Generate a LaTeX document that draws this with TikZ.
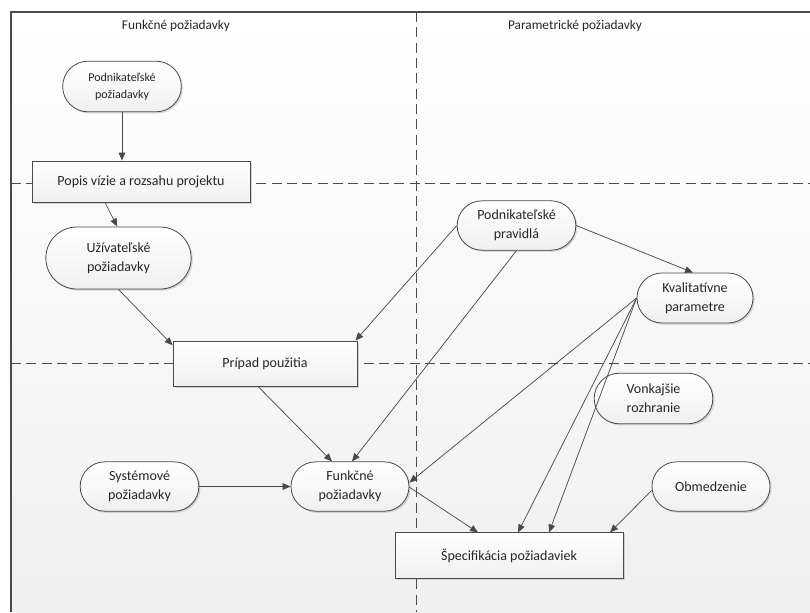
\documentclass[tikz,border=0pt]{standalone}
\usepackage{fontspec}
\setmainfont{Carlito}
\usetikzlibrary{arrows.meta,shapes.misc,shadows}
\definecolor{ink}{HTML}{262626}
\definecolor{edge}{HTML}{4A4A4A}
\begin{document}
\begin{tikzpicture}[x=0.75pt,y=-0.75pt,
  every node/.style={text=ink},
  title/.style={font=\fontsize{10}{12}\selectfont},
  boxbase/.style={draw=edge, line width=0.6pt, inner sep=0pt,
    top color=white, bottom color=black!6,
    drop shadow={shadow xshift=1.2pt, shadow yshift=-1.2pt, opacity=0.25, fill=black!60}},
  pill/.style={boxbase, rounded rectangle, align=center,
    font=\fontsize{10.5}{14.5}\selectfont},
  smallpill/.style={pill, font=\fontsize{9}{12.5}\selectfont},
  stepbox/.style={boxbase, rectangle, font=\fontsize{10.5}{12}\selectfont},
  conn/.style={draw=edge, line width=0.55pt, -{Triangle[length=6pt,width=5pt]}},
  lane/.style={draw=edge, line width=0.6pt, dash pattern=on 7.5pt off 4pt}
]
\useasboundingbox (0,0) rectangle (810,612);

% page background and outer frame
\shade[top color=white, bottom color=black!6] (11,12) rectangle (810,612);
\draw[edge, line width=1pt] (11,612) -- (11,12) -- (810,12);

% lane separators
\draw[lane] (416,12) -- (416,612);
\draw[lane] (11,183) -- (810,183);
\draw[lane] (11,363) -- (810,363);

% lane titles
\node[title] (tf) at (176,26) {Funkčné požiadavky};
\node[title] (tp) at (575,26) {Parametrické požiadavky};

% nodes
\node[smallpill, minimum width=89pt, minimum height=38pt] (pp) at (122,86.5) {Podnikateľské\\požiadavky};
\node[stepbox, minimum width=163.5pt, minimum height=30.75pt] (popis) at (141,181.5) {Popis vízie a rozsahu projektu};
\node[pill, minimum width=109pt, minimum height=46.5pt] (uz) at (118.5,258) {Užívateľské\\požiadavky};
\node[stepbox, minimum width=138pt, minimum height=33.75pt] (pripad) at (265,363.5) {Prípad použitia};
\node[pill, minimum width=89pt, minimum height=37pt] (pr) at (516.5,225.5) {Podnikateľské\\pravidlá};
\node[pill, minimum width=87pt, minimum height=37.5pt] (kv) at (695,298) {Kvalitatívne\\parametre};
\node[pill, minimum width=89pt, minimum height=38pt] (vr) at (653.5,398.5) {Vonkajšie\\rozhranie};
\node[pill, minimum width=88.5pt, minimum height=37pt] (ob) at (711,486.5) {Obmedzenie};
\node[stepbox, minimum width=171pt, minimum height=34pt] (spec) at (509,555.5) {Špecifikácia požiadaviek};
\node[pill, minimum width=89pt, minimum height=37pt] (sys) at (139.5,486.5) {Systémové\\požiadavky};
\node[pill, minimum width=88.5pt, minimum height=37pt] (fp) at (350,486.5) {Funkčné\\požiadavky};

% connectors
\draw[conn] (pp.south) -- (pp.south |- popis.north);
\draw[conn] ([xshift=-27pt]popis.south) -- ([xshift=-1pt]uz.north);
\draw[conn] (uz.south) -- ([yshift=-3.5pt]pripad.north west);
\draw[conn] (pr.west) -- ([xshift=-1.5pt]pripad.north east);
\draw[conn] ([xshift=-5.25pt]pripad.south) -- ([xshift=-13.5pt]fp.north);
\draw[conn] (pr.south) -- ([xshift=1.5pt]fp.north);
\draw[conn] (pr.east) -- ([xshift=-1.5pt]kv.north);
\draw[conn] (kv.west) -- ([yshift=3pt]fp.east);
\draw[conn] (kv.west) -- ([xshift=6.75pt]spec.north);
\draw[conn] (kv.west) -- ([xshift=30pt]spec.north);
\draw[conn] ([yshift=-0.5pt]fp.east) -- ([xshift=-23.25pt]spec.north);
\draw[conn] ([yshift=-3pt]ob.west) -- ([xshift=75.75pt]spec.north);
\draw[conn] (sys.east) -- (fp.west);
\end{tikzpicture}
\end{document}
